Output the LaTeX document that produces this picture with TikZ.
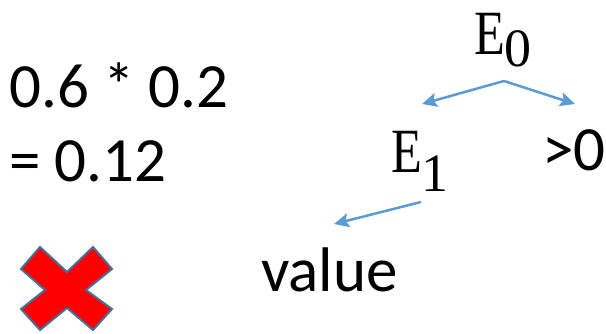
\documentclass[tikz,border=0pt]{standalone}
\usepackage{fontspec,graphicx}
\setmainfont{Carlito}
\newfontfamily\eqfont{Liberation Serif}
\usetikzlibrary{arrows.meta}
\definecolor{arrowblue}{RGB}{91,155,213}
\definecolor{crossedge}{RGB}{65,113,156}
\newcommand{\Eidx}[2]{{\eqfont\fontsize{63}{63}\selectfont\scalebox{0.8}[1]{E}\raisebox{-#2pt}{\fontsize{54}{54}\selectfont #1}}}

\begin{document}
\begin{tikzpicture}[x=1pt,y=-1pt,
  txt/.style={inner sep=0pt,anchor=base west,font=\fontsize{63}{63}\selectfont},
  sym/.style={inner sep=0pt,anchor=base west},
  arr/.style={-{Stealth[length=15pt,width=14pt,inset=3pt]},arrowblue,line width=2.5pt}]
\useasboundingbox (0,0) rectangle (606,334);
% products and result
\node[txt] (prod) at (9,108) {0.6 * 0.2};
\node[txt] (res) at (9,182) {= 0.12};
% tree
\node[sym] (e0) at (474,55) {\Eidx{0}{12}};
\node[sym] (e1) at (391,173) {\Eidx{1}{19}};
\node[txt] (pos) at (542,171) {>0};
\node[txt] (val) at (261,292) {value};
\coordinate (fork) at (504,81); \coordinate (e1top) at (422,104); \coordinate (postop) at (575,104);
\coordinate (e1foot) at (421,202); \coordinate (valtop) at (334,224);
\draw[arr] (fork) -- (e1top); \draw[arr] (fork) -- (postop);
\draw[arr] (e1foot) -- (valtop);
% red cross
\filldraw[fill=red,draw=crossedge,line width=2pt,line join=miter]
  (40,247) -- (67,272) -- (93,247) -- (112,269) -- (86,290) -- (112,309) -- (93,330)
  -- (67,308) -- (40,330) -- (21,309) -- (45,290) -- (21,269) -- cycle;
\end{tikzpicture}
\end{document}
